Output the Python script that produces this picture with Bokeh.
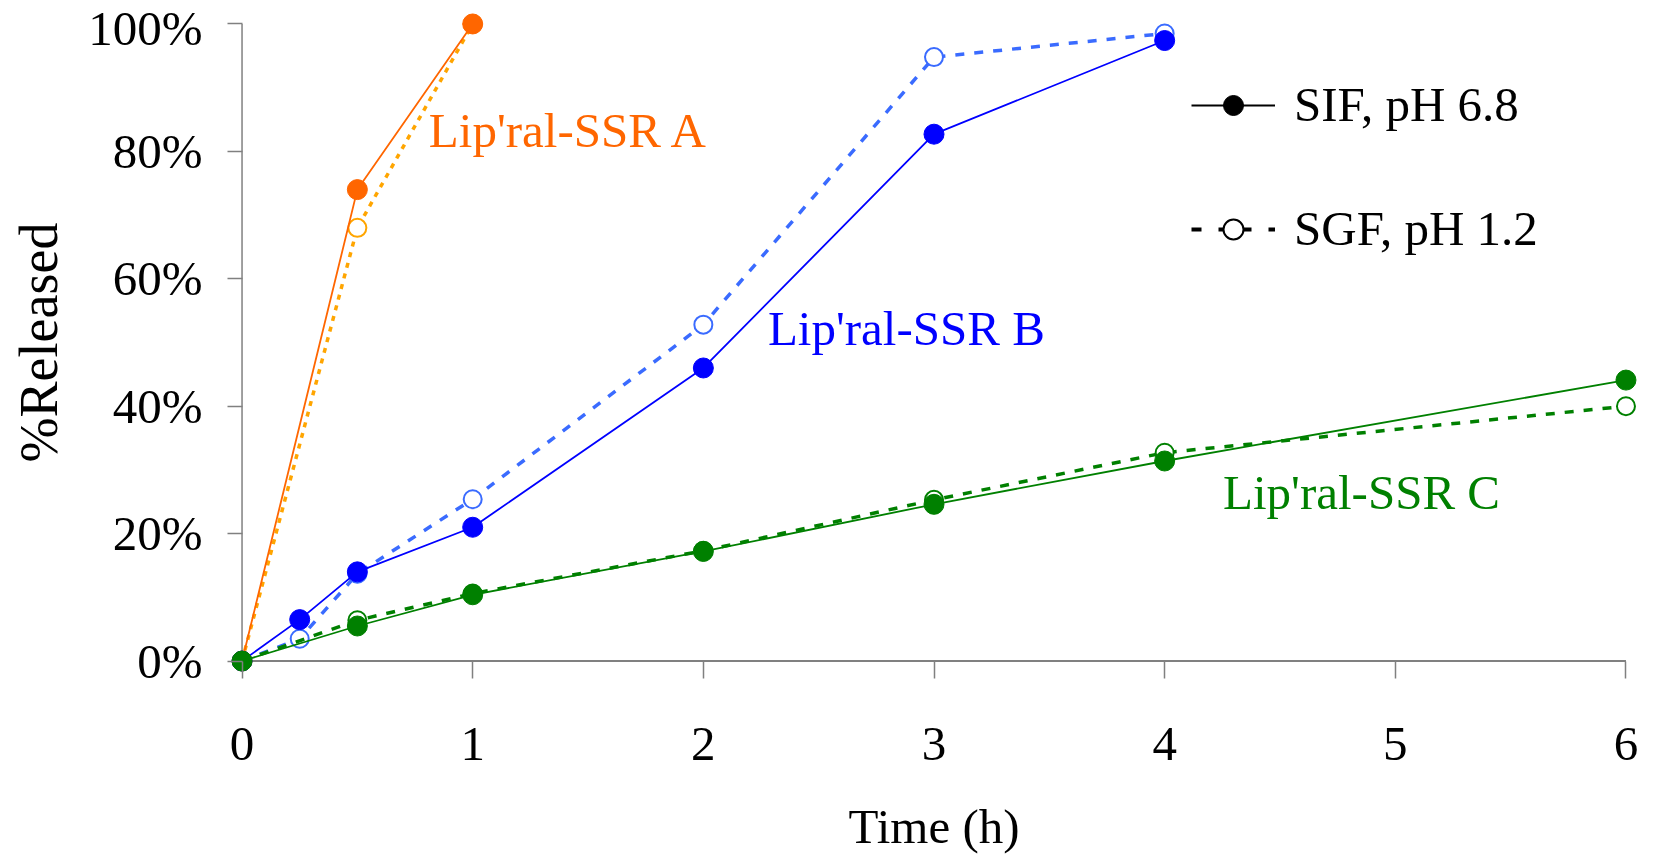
from bokeh.plotting import figure
from bokeh.models import Range1d, LinearAxis, FixedTicker, Legend, LegendItem, CustomJSTickFormatter
from bokeh.core.properties import value
from bokeh.embed import file_html
from bokeh.resources import INLINE

# ---- data ----
time_A = [0, 0.5, 1]
sif_A = [0, 74, 100]
sgf_A = [0, 68, 100]

time_B = [0, 0.25, 0.5, 1, 2, 3, 4]
sif_B = [0, 6.5, 14.0, 21.0, 46.0, 82.7, 97.4]
sgf_B = [0, 3.5, 13.7, 25.4, 52.8, 94.8, 98.5]

time_C = [0, 0.5, 1, 2, 3, 4, 6]
sif_C = [0, 5.5, 10.4, 17.2, 24.6, 31.4, 44.1]
sgf_C = [0, 6.4, 10.6, 17.3, 25.3, 32.7, 40.0]

x_ticks = [0, 1, 2, 3, 4, 5, 6]
y_ticks = [0, 20, 40, 60, 80, 100]
series_names = ["Lip'ral-SSR A", "Lip'ral-SSR B", "Lip'ral-SSR C"]
legend_labels = ["SIF, pH 6.8", "SGF, pH 1.2"]

FONT = "Liberation Serif"
FS = "49px"
AXIS_GREY = "#808080"

p = figure(width=1645, height=859, output_backend="svg", toolbar_location=None,
           x_range=Range1d(-0.05, 6.05), y_range=Range1d(-1.8, 101.8),
           x_axis_location=None, y_axis_location=None,
           min_border_left=230, min_border_right=8, min_border_top=12, min_border_bottom=187)
p.outline_line_color = None
p.grid.visible = False
p.background_fill_color = "white"

# axes: tick labels and ticks from Bokeh axes at frame edges; ticks reach inward to the zero lines
xaxis = LinearAxis(ticker=FixedTicker(ticks=x_ticks), axis_label="Time (h)")
yaxis = LinearAxis(ticker=FixedTicker(ticks=y_ticks), axis_label="%Released")
yaxis.formatter = CustomJSTickFormatter(code="return tick.toFixed(0) + '%'")
for ax in (xaxis, yaxis):
    ax.axis_line_color = None
    ax.major_tick_line_color = AXIS_GREY
    ax.major_tick_line_width = 1.5
    ax.minor_tick_line_color = None
    ax.major_label_text_font = FONT
    ax.major_label_text_font_size = FS
    ax.major_label_text_color = "black"
    ax.axis_label_text_font = FONT
    ax.axis_label_text_font_size = FS
    ax.axis_label_text_font_style = "normal"
    ax.axis_label_text_color = "black"
yaxis.axis_label_text_font_size = "54px"
xaxis.major_tick_in = 11
xaxis.major_tick_out = 6
xaxis.major_label_standoff = 49
xaxis.axis_label_standoff = 36
yaxis.major_tick_in = 12
yaxis.major_tick_out = 3
yaxis.major_label_standoff = 25
yaxis.axis_label_standoff = 16
p.add_layout(xaxis, "below")
p.add_layout(yaxis, "left")

# axis lines along the zero lines, spanning the tick extent
p.segment(x0=[x_ticks[0]], y0=[0], x1=[x_ticks[-1]], y1=[0], line_color=AXIS_GREY, line_width=2)
p.segment(x0=[0], y0=[y_ticks[0]], x1=[0], y1=[y_ticks[-1]], line_color=AXIS_GREY, line_width=1.5)

series = [
    (time_A, sif_A, sgf_A, "#FF6600", "#FFA500", "5 6"),
    (time_B, sif_B, sgf_B, "#0000FF", "#3A6BFF", "9 10"),
    (time_C, sif_C, sgf_C, "#008000", "#008000", "9 10"),
]

for t, sif, sgf, c_sif, c_sgf, dash in series:
    # SGF (dashed, open circles)
    p.line(t, sgf, line_color=c_sgf, line_width=3.5, line_dash=dash)
    p.scatter(t, sgf, marker="circle", size=18, fill_color="white", line_color=c_sgf, line_width=2)
    # SIF (solid, filled circles)
    p.line(t, sif, line_color=c_sif, line_width=1.8)
    p.scatter(t, sif, marker="circle", size=20, fill_color=c_sif, line_color=c_sif, line_width=1)

# series annotations
lab_x = [0.81, 2.28, 4.253]
lab_y = [83.2, 52.2, 26.4]
lab_colors = ["#FF6600", "#0000FF", "#008000"]
p.text(x=lab_x, y=lab_y, text=series_names, text_color=lab_colors,
       text_font=value(FONT), text_font_size=FS, text_baseline="middle", text_align="left")

# legend (dummy renderers placed outside visible range)
lx, ly = [-10], [-10]
r1l = p.line(lx, ly, line_color="black", line_width=2)
r1m = p.scatter(lx, ly, marker="circle", fill_color="black", line_color="black")
r2l = p.line(lx, ly, line_color="black", line_width=4, line_dash="10 17 10 13")
r2m = p.scatter(lx, ly, marker="circle", fill_color="white", line_color="black", line_width=2)
legend = Legend(items=[LegendItem(label=legend_labels[0], renderers=[r1l, r1m]),
                       LegendItem(label=legend_labels[1], renderers=[r2l, r2m])],
                location=(961, 415), label_text_font=FONT, label_text_font_size=FS,
                label_text_color="black", glyph_width=84, glyph_height=50, label_height=50,
                label_standoff=19, spacing=67, padding=0, margin=0,
                border_line_color=None, background_fill_alpha=0)
p.add_layout(legend, "center")

open("out.html", "w").write(file_html(p, INLINE))
